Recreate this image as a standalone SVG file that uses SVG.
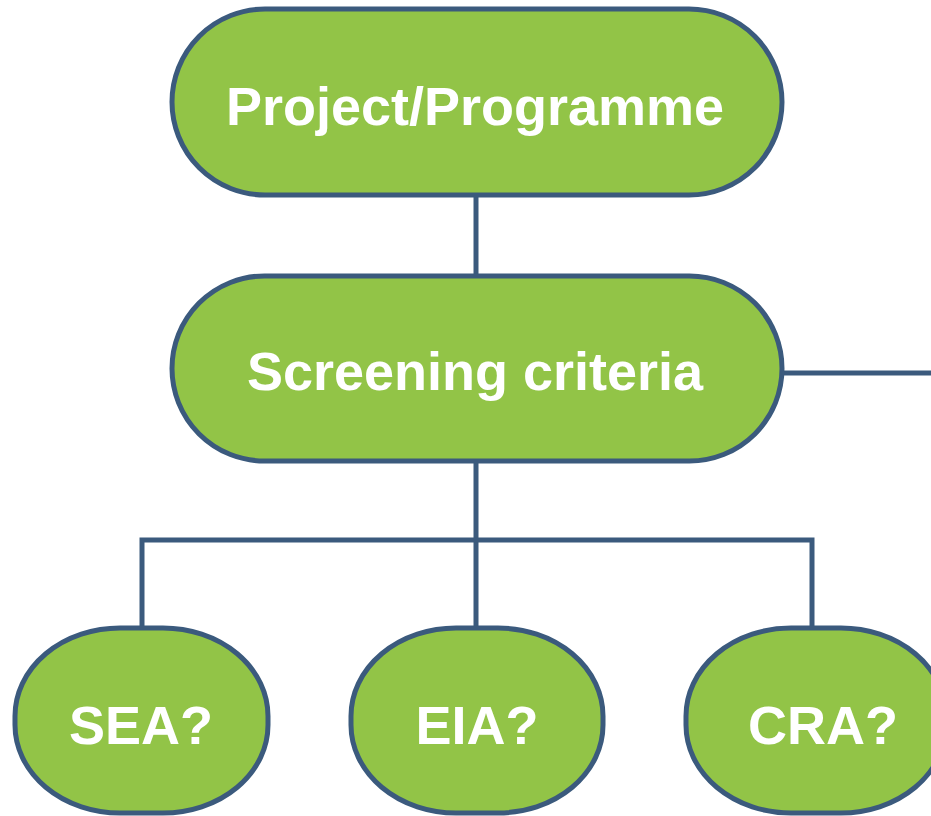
<svg xmlns="http://www.w3.org/2000/svg" width="931" height="816" viewBox="0 0 931 816">
<style>
.node{fill:#92C447;stroke:#3B5A7D;stroke-width:5}
.lbl{fill:#FFFFFF;font-family:"Liberation Sans",Arial,sans-serif;font-weight:bold;font-size:54px;text-anchor:middle}
.conn{stroke:#3B5A7D;stroke-width:5;fill:none}
</style>
<rect width="931" height="816" fill="#FFFFFF"/>
<g id="connectors">
<line class="conn" x1="476" y1="195" x2="476" y2="276"/>
<line class="conn" x1="781" y1="373" x2="931" y2="373"/>
<line class="conn" x1="476" y1="460" x2="476" y2="628"/>
<polyline class="conn" points="142,628 142,540 812,540 812,628"/>
</g>
<g id="project">
<rect class="node" x="172" y="9" width="610" height="186" rx="93" ry="93"/>
<text class="lbl" x="475" y="125">Project/Programme</text>
</g>
<g id="screening">
<rect class="node" x="172" y="276" width="610" height="185" rx="92.5" ry="92.5"/>
<text class="lbl" x="475" y="390">Screening criteria</text>
</g>
<g id="sea">
<rect class="node" x="15" y="628" width="253" height="185" rx="105" ry="88"/>
<text class="lbl" x="141" y="744">SEA?</text>
</g>
<g id="eia">
<rect class="node" x="351" y="628" width="252" height="185" rx="105" ry="88"/>
<text class="lbl" x="477" y="744">EIA?</text>
</g>
<g id="cra">
<rect class="node" x="686" y="628" width="260" height="185" rx="105" ry="88"/>
<text class="lbl" x="823" y="744">CRA?</text>
</g>
</svg>
